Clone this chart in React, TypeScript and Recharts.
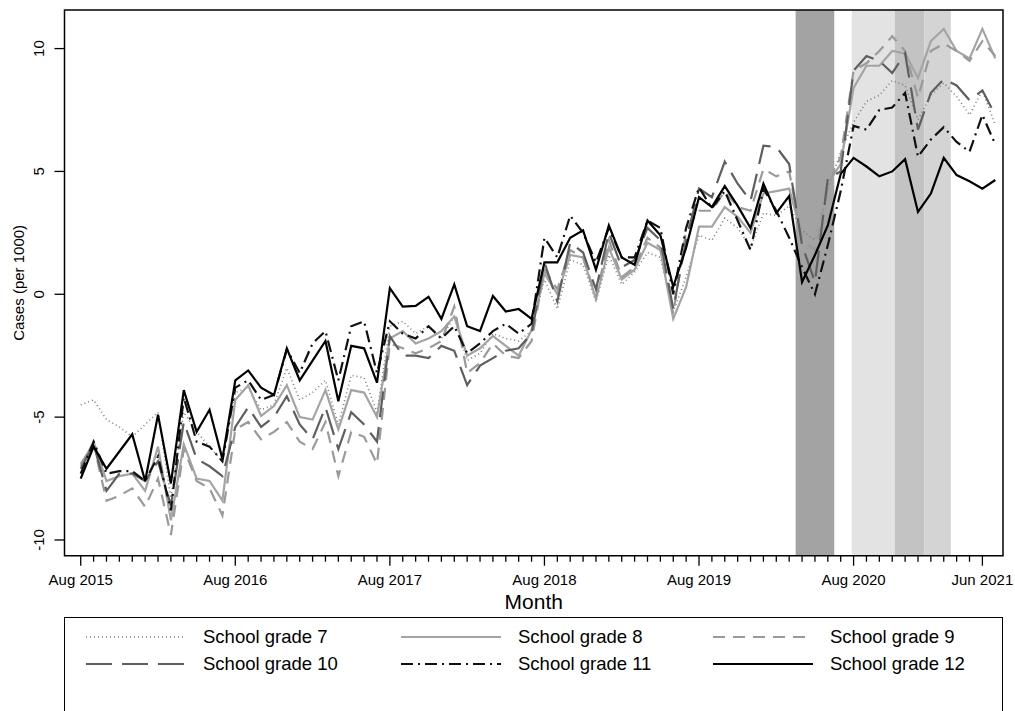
import React from 'react';
import { ComposedChart, Line, XAxis, YAxis, ReferenceArea } from 'recharts';

const FONT = '"Liberation Sans", Arial, Helvetica, sans-serif';

// Monthly values, index 0 = Aug 2015 ... index 71 = Jul 2021
const grade7 = [
  -4.5, -4.3, -5.1, -5.4, -5.8, -5.3, -4.8, -8.3, -4.8, -5.6, -6.2, -6.8,
  -4.0, -3.8, -4.7, -4.5, -3.0, -4.3, -4.0, -3.5, -5.3, -3.3, -3.4, -4.8,
  -1.3, -1.1, -1.6, -1.3, -1.8, -0.9, -2.7, -2.4, -1.6, -1.8, -1.9, -1.5,
  0.6, -0.6, 1.4, 1.2, -0.3, 1.6, 0.4, 0.9, 1.7, 1.5, -0.7, 0.7,
  2.4, 2.2, 3.1, 2.7, 1.9, 3.3, 3.2, 3.6, 2.6, 2.2, 4.3, 5.8,
  7.0, 7.85, 8.1, 8.7, 8.5, 7.1, 8.1, 8.6, 8.05, 7.3, 8.3, 6.9,
];
const grade8 = [
  -7.0, -6.0, -7.6, -7.4, -7.3, -8.0, -6.2, -9.2, -6.1, -7.5, -7.6, -8.4,
  -4.3, -3.7, -4.95, -4.55, -3.7, -5.0, -5.1, -3.9, -5.5, -3.9, -4.0, -5.0,
  -1.8, -1.5, -2.0, -1.8, -1.5, -0.9, -2.5, -2.2, -1.7, -2.1, -2.5, -1.45,
  0.85, 0.0, 1.6, 1.5, -0.2, 1.9, 0.6, 1.0, 2.1, 1.8, -1.0, 0.3,
  2.75, 2.75, 3.55, 3.15, 2.5, 4.1, 4.2, 4.3, 2.4, 2.0, 4.5, 5.3,
  8.4, 9.3, 9.3, 9.9, 9.8, 8.8, 10.3, 10.8, 9.9, 9.6, 10.8, 9.6,
];
const grade9 = [
  -6.9, -6.1, -8.4, -8.2, -7.9, -8.65, -7.5, -9.8, -6.3, -7.6, -7.9, -9.0,
  -5.5, -5.2, -5.9, -5.6, -5.2, -6.0, -6.3, -5.2, -7.4, -5.6, -5.8, -6.9,
  -2.0, -2.2, -2.4, -2.2, -1.9, -0.5, -3.2, -2.8, -2.0, -2.5, -2.6, -1.9,
  1.0, 0.2, 1.8, 1.5, -0.1, 2.2, 0.7, 1.1, 2.3, 1.9, -0.8, 2.6,
  3.4, 3.4, 4.2, 3.55, 3.4, 5.1, 4.8, 5.0, 2.2, 1.8, 4.4, 5.6,
  9.1, 9.4, 9.9, 10.5, 9.9, 8.0, 9.9, 10.2, 9.9, 9.5, 10.3, 9.7,
];
const grade10 = [
  -7.1, -6.1, -8.0, -7.3, -7.3, -7.6, -6.8, -8.6, -5.2, -6.7, -7.0, -7.4,
  -5.4, -4.6, -5.4, -5.0, -4.15, -5.3, -5.9, -4.6, -6.3, -4.8, -5.3, -6.0,
  -1.7, -2.5, -2.5, -2.6, -2.1, -2.3, -3.7, -2.9, -2.6, -2.3, -2.2, -1.6,
  1.3, -0.3, 2.1, 1.7, 0.2, 2.5, 1.1, 1.4, 2.7, 2.2, -0.6, 2.2,
  4.3, 3.95, 5.4, 4.5, 3.8, 6.05, 6.0, 5.3, 2.0, 0.5, 4.7, 5.0,
  9.1, 9.7, 9.5, 9.0, 9.8, 6.7, 8.2, 8.75, 8.5, 7.9, 8.3, 7.3,
];
const grade11 = [
  -7.3, -6.0, -7.3, -7.2, -7.2, -7.6, -6.6, -8.8, -4.2, -6.0, -6.2, -6.8,
  -3.8, -3.5, -4.3, -4.1, -2.25, -3.2, -2.0, -1.5, -3.5, -1.3, -1.1, -3.2,
  -1.1, -1.6, -1.8, -1.3, -1.8, -1.3, -2.4, -2.0, -1.5, -1.2, -1.6, -1.2,
  2.3, 1.5, 3.2, 2.5, 1.3, 2.7, 1.5, 1.5, 3.0, 2.7, 0.0, 2.7,
  4.35, 3.5, 4.2, 3.0, 1.8, 4.3, 3.4, 2.3, 1.1, 0.0, 2.0, 4.2,
  6.85, 6.7, 7.5, 7.6, 8.2, 5.6, 6.3, 6.8, 6.2, 5.8, 7.3, 6.1,
];
const grade12 = [
  -7.5, -6.2, -7.1, -6.4, -5.7, -7.6, -4.9, -7.7, -3.9, -5.6, -4.7, -6.7,
  -3.5, -3.1, -3.8, -4.1, -2.2, -3.5, -2.7, -1.9, -4.35, -2.1, -2.2, -3.6,
  0.25, -0.5, -0.47, -0.1, -1.0, 0.4, -1.3, -1.5, -0.07, -0.7, -0.6, -1.0,
  1.3, 1.3, 2.3, 2.6, 1.0, 2.8, 1.5, 1.2, 3.0, 2.4, 0.3, 1.9,
  3.95, 3.55, 4.4, 3.6, 2.7, 4.5, 3.3, 4.0, 0.5, 1.6, 2.8, 4.9,
  5.55, 5.2, 4.8, 5.0, 5.5, 3.35, 4.1, 5.55, 4.85, 4.6, 4.3, 4.65,
];

// Labelled month ticks (month index) and their labels
const majorTicks = [0, 12, 24, 36, 48, 60, 70];
const majorLabels = ['Aug 2015', 'Aug 2016', 'Aug 2017', 'Aug 2018', 'Aug 2019', 'Aug 2020', 'Jun 2021'];
const yTicks = [-10, -5, 0, 5, 10];

// Restriction periods (month index start / end)
const periodStart = [55.5, 59.86, 63.2, 65.5];
const periodEnd = [58.5, 63.2, 65.5, 67.55];
const periodFill = ['#a3a3a3', '#e3e3e3', '#c3c3c3', '#d4d4d4'];

const X_DOMAIN: [number, number] = [-1.26, 71.6];
const Y_DOMAIN: [number, number] = [-10.64, 11.57];

const allTicks = grade12.slice(0, 71).map((_, i) => i);

const data = grade12.map((_, i) => ({
  t: i,
  g7: grade7[i],
  g8: grade8[i],
  g9: grade9[i],
  g10: grade10[i],
  g11: grade11[i],
  g12: grade12[i],
}));

const SERIES = [
  { key: 'g7', name: 'School grade 7', stroke: '#7c7c7c', width: 1.6, dash: '1 3' },
  { key: 'g8', name: 'School grade 8', stroke: '#a4a4a4', width: 2.2, dash: undefined },
  { key: 'g9', name: 'School grade 9', stroke: '#9a9a9a', width: 2.2, dash: '12 8' },
  { key: 'g10', name: 'School grade 10', stroke: '#5f5f5f', width: 2.2, dash: '26 10' },
  { key: 'g11', name: 'School grade 11', stroke: '#111111', width: 2.2, dash: '12 5 2 5' },
  { key: 'g12', name: 'School grade 12', stroke: '#000000', width: 2.2, dash: undefined },
];

const XTick = (props: any) => {
  const { x, y, payload } = props;
  const idx = majorTicks.indexOf(payload.value);
  const major = idx >= 0;
  return (
    <g>
      <line x1={x} x2={x} y1={y} y2={y + (major ? 10 : 6)} stroke="#000" strokeWidth={1.3} />
      {major && (
        <text
          x={x}
          y={y + 29}
          textAnchor="middle"
          fontSize={15}
          fontFamily={FONT}
          fill="#000"
        >
          {majorLabels[idx]}
        </text>
      )}
    </g>
  );
};

const YTick = (props: any) => {
  const { x, y, payload } = props;
  const cx = x - 26;
  return (
    <g>
      <line x1={x - 10} x2={x} y1={y} y2={y} stroke="#000" strokeWidth={1.3} />
      <text
        x={cx}
        y={y}
        transform={`rotate(-90 ${cx} ${y})`}
        textAnchor="middle"
        dominantBaseline="central"
        fontSize={15}
        fontFamily={FONT}
        fill="#000"
      >
        {payload.value}
      </text>
    </g>
  );
};

const LegendBox = () => {
  const colX = [21, 336, 648];
  const rowY = [19, 46];
  return (
    <div
      style={{
        position: 'absolute',
        left: 64,
        top: 617,
        width: 939,
        height: 120,
        border: '1.5px solid #000',
        boxSizing: 'border-box',
        fontFamily: FONT,
      }}
    >
      {SERIES.map((s, i) => {
        const col = i % 3;
        const row = Math.floor(i / 3);
        return (
          <div
            key={s.key}
            style={{ position: 'absolute', left: colX[col], top: rowY[row] - 12, height: 24, width: 320 }}
          >
            <svg width={102} height={24} style={{ position: 'absolute', left: 0, top: 0 }}>
              <line
                x1={0}
                x2={100}
                y1={12}
                y2={12}
                stroke={s.stroke}
                strokeWidth={s.width}
                strokeDasharray={s.dash}
              />
            </svg>
            <span
              style={{
                position: 'absolute',
                left: 117,
                top: 0,
                lineHeight: '24px',
                fontSize: 18.5,
                color: '#000',
                whiteSpace: 'nowrap',
              }}
            >
              {s.name}
            </span>
          </div>
        );
      })}
    </div>
  );
};

export default function App() {
  return (
    <div
      style={{
        position: 'absolute',
        left: 0,
        top: 0,
        width: 1015,
        height: 711,
        overflow: 'hidden',
        background: '#fff',
      }}
    >
      <ComposedChart
        width={1015}
        height={711}
        data={data}
        margin={{ top: 10, right: 12, bottom: 0, left: 0 }}
        style={{ fontFamily: FONT }}
      >
        <XAxis
          type="number"
          dataKey="t"
          domain={X_DOMAIN}
          ticks={allTicks}
          interval={0}
          allowDataOverflow
          tickSize={0}
          tickMargin={0}
          tickLine={false}
          axisLine={false}
          tick={(p: any) => <XTick {...p} />}
          height={155.3}
          label={{
            value: 'Month',
            position: 'insideTop',
            offset: 38,
            style: { fontSize: 21, fontFamily: FONT, fill: '#000' },
          }}
        />
        <YAxis
          type="number"
          domain={Y_DOMAIN}
          ticks={yTicks}
          interval={0}
          allowDataOverflow
          width={64.5}
          tickSize={0}
          tickMargin={0}
          tickLine={false}
          axisLine={false}
          tick={(p: any) => <YTick {...p} />}
          label={{
            value: 'Cases (per 1000)',
            angle: -90,
            position: 'insideLeft',
            offset: 19,
            style: { fontSize: 15, fontFamily: FONT, fill: '#000', textAnchor: 'middle' },
          }}
        />
        {periodStart.map((s, i) => (
          <ReferenceArea
            key={`p${i}`}
            x1={s}
            x2={periodEnd[i]}
            y1={Y_DOMAIN[0]}
            y2={Y_DOMAIN[1]}
            fill={periodFill[i]}
            fillOpacity={1}
            stroke="none"
            zIndex={-50}
          />
        ))}
        {SERIES.map((s) => (
          <Line
            key={s.key}
            type="linear"
            dataKey={s.key}
            name={s.name}
            stroke={s.stroke}
            strokeWidth={s.width}
            strokeDasharray={s.dash}
            dot={false}
            activeDot={false}
            isAnimationActive={false}
          />
        ))}
        <ReferenceArea
          x1={X_DOMAIN[0]}
          x2={X_DOMAIN[1]}
          y1={Y_DOMAIN[0]}
          y2={Y_DOMAIN[1]}
          fill="none"
          stroke="#000"
          strokeWidth={1.5}
        />
      </ComposedChart>
      <LegendBox />
    </div>
  );
}
